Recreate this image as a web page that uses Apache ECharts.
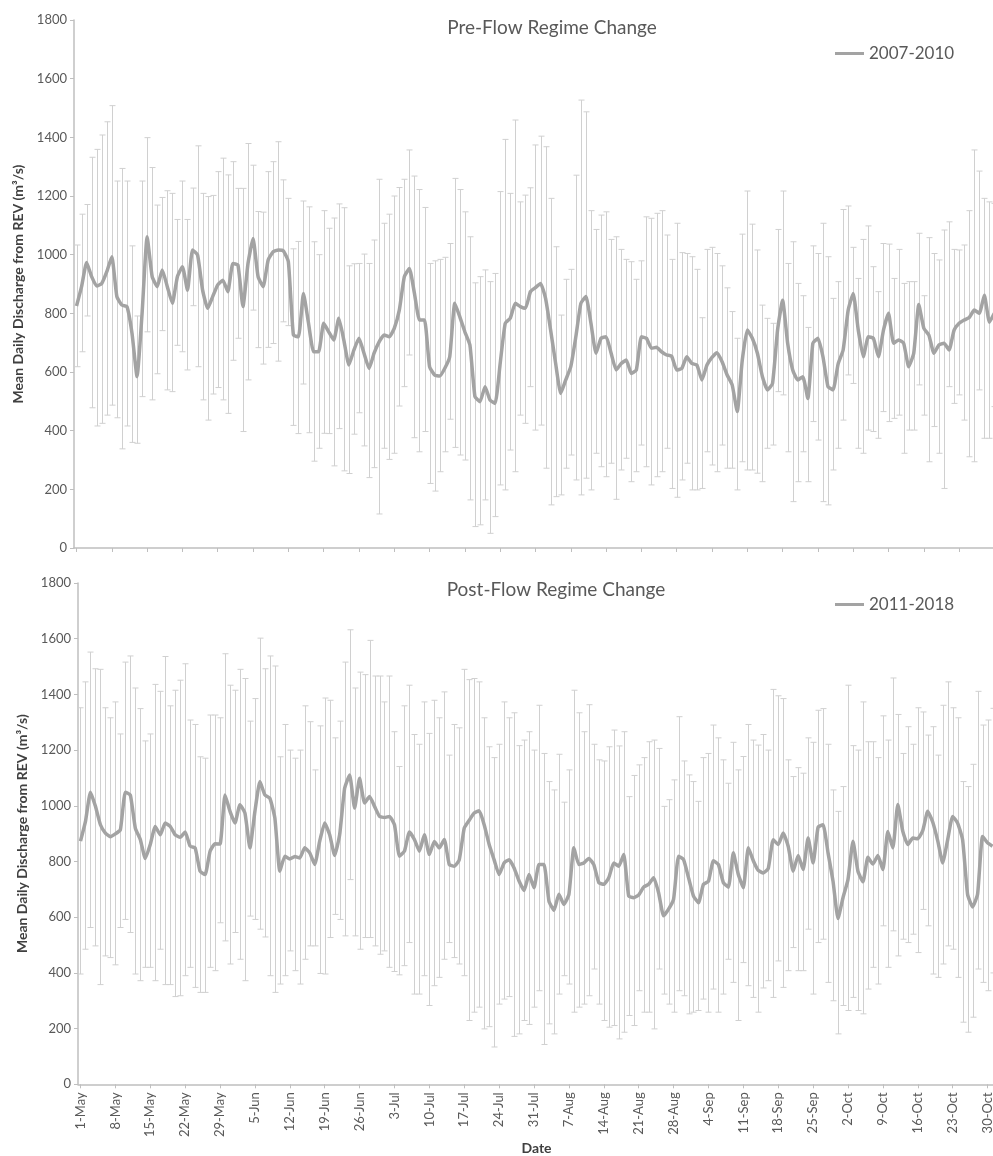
<!DOCTYPE html>
<html>
<head>
<meta charset="utf-8">
<script src="https://cdn.jsdelivr.net/npm/echarts@6/dist/echarts.min.js"></script>
<style>
  html, body { margin: 0; padding: 0; background: #fff; overflow: hidden; }
  #chart { width: 1010px; height: 1156px; }
</style>
</head>
<body>
<div id="chart"></div>
<script>
// Day-of-season categories, 1 May to 31 October
const MONTHS = [['May', 31], ['Jun', 30], ['Jul', 31], ['Aug', 31], ['Sep', 30], ['Oct', 31]];
const DATES = [];
MONTHS.forEach(([m, n]) => { for (let d = 1; d <= n; d++) DATES.push(d + '-' + m); });

const Y_TICKS = [0, 200, 400, 600, 800, 1000, 1200, 1400, 1600, 1800];

// 2007-2010: mean daily discharge and error bar ends (m3/s)
const PRE_MEAN = [
  825, 891, 973, 925, 893, 902, 942, 993, 857, 828, 823, 732, 584, 800, 1061, 925, 891, 948, 891, 834,
  925, 959, 879, 1016, 999, 879, 817, 857, 897, 913, 874, 970, 965, 823, 970, 1055, 925, 891, 982, 1010,
  1016, 1013, 976, 726, 720, 868, 766, 669, 669, 766, 737, 709, 783, 709, 624, 675, 715, 664, 612, 664,
  703, 726, 720, 749, 811, 925, 953, 868, 777, 777, 618, 590, 586, 612, 652, 834, 788, 737, 692, 516,
  499, 550, 504, 493, 629, 766, 783, 834, 823, 817, 874, 888, 902, 851, 743, 629, 527, 573, 618, 720,
  834, 857, 766, 664, 715, 720, 664, 607, 629, 641, 595, 607, 720, 715, 681, 684, 669, 658, 654, 607,
  612, 652, 629, 624, 573, 624, 650, 666, 635, 590, 556, 465, 640, 743, 715, 664, 584, 539, 561, 743,
  845, 698, 607, 573, 584, 510, 698, 715, 652, 550, 539, 627, 675, 811, 868, 743, 652, 720, 715, 652,
  743, 800, 698, 709, 698, 618, 664, 830, 749, 726, 664, 692, 698, 675, 743, 766, 777, 786, 811, 800,
  862, 770, 800, 820
];
const PRE_HIGH = [
  1033, 1138, 1171, 1332, 1359, 1408, 1453, 1508, 1251, 1294, 1251, 1030, 791, 1251, 1399, 1297, 1169, 1195, 1218, 1209,
  1120, 1251, 1120, 1227, 1371, 1209, 1198, 1202, 1283, 1329, 1272, 1317, 1226, 1226, 1379, 1305, 1147, 1145, 1283, 1317,
  1385, 1255, 1192, 1020, 1045, 1183, 1163, 1044, 1000, 1150, 1090, 1125, 1173, 1160, 962, 969, 970, 1002, 970, 1050,
  1257, 1107, 1138, 1200, 1229, 1257, 1357, 1268, 1222, 1161, 970, 979, 984, 991, 1038, 1260, 1222, 1146, 1061, 904,
  925, 948, 908, 936, 1215, 1393, 1209, 1459, 1180, 1203, 1228, 1374, 1404, 1368, 1192, 1027, 794, 916, 950, 1271,
  1527, 1487, 1150, 1086, 1135, 1146, 1052, 1061, 1018, 984, 976, 916, 979, 1129, 1124, 1141, 1150, 1067, 984, 1107,
  1007, 1004, 993, 950, 785, 1018, 1025, 1004, 962, 887, 806, 715, 1070, 1217, 1104, 1016, 828, 783, 766, 1086,
  1217, 970, 1044, 902, 860, 752, 1030, 1004, 1107, 993, 851, 908, 1154, 1166, 1025, 919, 1052, 1098, 959, 874,
  1038, 1036, 919, 1018, 902, 908, 908, 1073, 860, 1058, 1004, 982, 1084, 1112, 1018, 1016, 1033, 1150, 1357, 1285,
  1192, 1180, 1175, 1200
];
const PRE_LOW = [
  618, 669, 791, 478, 416, 425, 453, 487, 444, 338, 416, 360, 357, 516, 737, 505, 594, 741, 539, 533,
  691, 669, 607, 826, 618, 505, 436, 525, 547, 505, 459, 640, 715, 397, 573, 811, 683, 627, 684, 697,
  637, 771, 758, 418, 390, 559, 393, 296, 340, 391, 390, 280, 407, 263, 254, 388, 461, 348, 240, 274,
  116, 340, 302, 323, 484, 550, 658, 376, 328, 397, 220, 194, 260, 328, 439, 343, 317, 300, 164, 73,
  79, 164, 50, 107, 215, 198, 334, 260, 453, 425, 550, 402, 419, 272, 147, 175, 181, 272, 317, 232,
  181, 238, 198, 323, 277, 243, 289, 166, 266, 306, 226, 260, 351, 277, 215, 243, 260, 340, 203, 173,
  232, 289, 198, 198, 203, 328, 283, 260, 351, 272, 272, 198, 294, 266, 266, 255, 226, 340, 351, 533,
  522, 328, 158, 226, 328, 226, 431, 368, 158, 147, 266, 340, 436, 590, 561, 340, 323, 402, 397, 374,
  465, 431, 442, 453, 323, 402, 402, 556, 453, 294, 414, 323, 203, 550, 493, 522, 436, 311, 294, 539,
  374, 374, 482, 425
];

// 2011-2018: mean daily discharge and error bar ends (m3/s)
const POST_MEAN = [
  873, 944, 1049, 998, 932, 902, 889, 899, 914, 1049, 1039, 920, 879, 811, 861, 926, 896, 938, 926, 896,
  887, 906, 855, 849, 765, 753, 837, 864, 863, 1039, 980, 938, 1004, 974, 849, 980, 1087, 1039, 1027, 956,
  765, 819, 809, 818, 813, 849, 831, 789, 873, 938, 896, 822, 896, 1063, 1111, 992, 1099, 1010, 1033, 998,
  962, 958, 962, 932, 819, 837, 906, 879, 837, 896, 825, 872, 849, 879, 789, 783, 806, 920, 948, 974,
  982, 932, 861, 806, 753, 795, 806, 777, 730, 696, 753, 706, 789, 789, 658, 625, 682, 646, 682, 849,
  789, 795, 811, 789, 724, 718, 742, 795, 783, 825, 676, 670, 680, 708, 718, 742, 688, 605, 629, 664,
  819, 807, 742, 676, 652, 718, 729, 803, 789, 724, 708, 831, 753, 706, 849, 803, 768, 759, 775, 878,
  861, 902, 855, 765, 822, 771, 884, 795, 923, 932, 831, 729, 595, 670, 735, 873, 765, 727, 815, 791,
  822, 771, 908, 849, 1005, 908, 861, 884, 882, 911, 980, 942, 875, 795, 878, 962, 938, 878, 682, 637,
  682, 890, 867, 855
];
const POST_HIGH = [
  1352, 1445, 1552, 1492, 1490, 1352, 1316, 1373, 1258, 1516, 1538, 1423, 1349, 1233, 1258, 1436, 1411, 1536, 1359, 1415,
  1451, 1510, 1308, 1292, 1176, 1171, 1326, 1326, 1316, 1546, 1433, 1415, 1490, 1457, 1304, 1385, 1602, 1492, 1538, 1502,
  1176, 1292, 1200, 1171, 1200, 1359, 1302, 1129, 1287, 1387, 1379, 1244, 1304, 1516, 1632, 1423, 1480, 1471, 1594, 1466,
  1466, 1373, 1466, 1266, 1141, 1359, 1433, 1256, 1221, 1373, 1260, 1379, 1316, 1409, 1182, 1292, 1280, 1490, 1453, 1457,
  1445, 1316, 1212, 1173, 1221, 1373, 1316, 1334, 1216, 1236, 1266, 1200, 1361, 1188, 1087, 1057, 1185, 1013, 1129, 1415,
  1334, 1266, 1363, 1221, 1165, 1161, 1212, 1272, 1215, 1266, 1033, 1109, 1147, 1173, 1230, 1236, 1206, 998, 1022, 1093,
  1320, 1161, 1111, 1087, 1016, 1173, 1188, 1290, 1244, 1165, 1081, 1228, 1129, 1177, 1292, 1236, 1218, 1256, 1200, 1418,
  1395, 1385, 1165, 1105, 1137, 1117, 1244, 1228, 1343, 1349, 1221, 1057, 980, 1069, 1433, 1216, 1200, 1373, 1230, 1230,
  1173, 1323, 1236, 1459, 1328, 1188, 1284, 1221, 1352, 1337, 1254, 1284, 1182, 1361, 1445, 1352, 1316, 1087, 1069, 1149,
  1411, 1290, 1308, 1350
];
const POST_LOW = [
  396, 485, 563, 497, 358, 461, 455, 429, 563, 592, 545, 396, 372, 420, 420, 372, 485, 358, 358, 315,
  318, 390, 420, 348, 330, 330, 420, 408, 580, 515, 432, 545, 449, 372, 604, 592, 557, 529, 390, 330,
  360, 390, 479, 408, 360, 449, 497, 497, 398, 396, 527, 610, 592, 533, 735, 533, 485, 527, 527, 497,
  467, 479, 420, 405, 393, 426, 509, 324, 324, 390, 283, 354, 384, 449, 509, 455, 432, 390, 229, 259,
  277, 199, 207, 134, 288, 306, 315, 172, 181, 229, 215, 277, 336, 143, 217, 181, 324, 390, 360, 259,
  277, 288, 318, 414, 288, 229, 205, 211, 163, 187, 247, 211, 336, 259, 259, 199, 414, 324, 288, 259,
  336, 318, 253, 259, 265, 306, 259, 342, 259, 324, 449, 366, 229, 437, 354, 312, 259, 346, 372, 312,
  443, 348, 408, 491, 408, 408, 557, 324, 509, 521, 366, 300, 181, 283, 265, 312, 265, 253, 342, 420,
  360, 569, 420, 551, 461, 521, 509, 539, 473, 628, 569, 396, 384, 432, 497, 485, 384, 223, 187, 241,
  414, 366, 336, 400
];

const TEXT = '#595959';
const DARK = '#404040';
const FONT = 'Lato, "Open Sans", sans-serif';
const BAR_COLOR = '#d0d0d0';
const LINE_COLOR = '#a3a3a3';
const AXIS_COLOR = '#bfbfbf';

// Vertical error bar with short caps at both ends
function errorBar(params, api) {
  const i = api.value(0);
  const lo = api.coord([i, api.value(1)]);
  const hi = api.coord([i, api.value(2)]);
  const x = Math.round(lo[0]) + 0.5;
  const half = 3;
  const style = { stroke: BAR_COLOR, lineWidth: 1 };
  return {
    type: 'group',
    children: [
      { type: 'line', shape: { x1: x, y1: lo[1], x2: x, y2: hi[1] }, style },
      { type: 'line', shape: { x1: x - half, y1: hi[1], x2: x + half, y2: hi[1] }, style },
      { type: 'line', shape: { x1: x - half, y1: lo[1], x2: x + half, y2: lo[1] }, style }
    ]
  };
}

function yAxis(gridIndex) {
  return {
    type: 'value', gridIndex, min: Y_TICKS[0], max: Y_TICKS[Y_TICKS.length - 1], interval: 200,
    name: 'Mean Daily Discharge from REV (m³/s)',
    nameLocation: 'middle', nameGap: 48,
    nameTextStyle: { fontFamily: FONT, fontSize: 14, fontWeight: 'bold', color: DARK },
    axisLine: { show: true, lineStyle: { color: AXIS_COLOR, width: 1.5 } },
    axisTick: { show: true, length: 4, lineStyle: { color: AXIS_COLOR } },
    axisLabel: { fontFamily: FONT, fontSize: 13, color: TEXT, margin: 7, formatter: v => String(v) },
    splitLine: { show: false }
  };
}

function xAxis(gridIndex, showLabels) {
  return {
    type: 'category', gridIndex, data: DATES, boundaryGap: true,
    axisLine: { show: true, lineStyle: { color: AXIS_COLOR, width: 1.5 } },
    axisTick: { show: true, interval: 6, alignWithLabel: true, length: 4, lineStyle: { color: AXIS_COLOR } },
    axisLabel: {
      show: showLabels, interval: 6, rotate: 90, margin: 8,
      fontFamily: FONT, fontSize: 13, color: TEXT
    },
    name: showLabels ? 'Date' : '',
    nameLocation: 'middle', nameGap: 54,
    nameTextStyle: { fontFamily: FONT, fontSize: 14, fontWeight: 'bold', color: DARK },
    splitLine: { show: false }
  };
}

function rows(low, high) {
  return DATES.map((d, i) => [i, low[i], high[i]]);
}

const legendText = { fontFamily: FONT, fontSize: 17, color: TEXT };

function panelTitle(text, cx, cy) {
  return {
    type: 'text', x: cx, y: cy,
    style: { text, fontFamily: FONT, fontSize: 19, fill: TEXT, align: 'center', verticalAlign: 'middle' }
  };
}

const chart = echarts.init(document.getElementById('chart'), null, { renderer: 'canvas' });
chart.setOption({
  animation: false,
  backgroundColor: '#ffffff',
  grid: [
    { left: 74, right: 8, top: 20, height: 528 },
    { left: 78, right: 15, top: 583, height: 504 }
  ],
  xAxis: [xAxis(0, false), xAxis(1, true)],
  yAxis: [yAxis(0), yAxis(1)],
  legend: [
    {
      data: ['2007-2010'], left: 830, top: 40, icon: 'rect', itemWidth: 29, itemHeight: 3,
      textStyle: legendText
    },
    {
      data: ['2011-2018'], left: 830, top: 591, icon: 'rect', itemWidth: 29, itemHeight: 3,
      textStyle: legendText
    }
  ],
  graphic: [
    panelTitle('Pre-Flow Regime Change', 552, 28),
    panelTitle('Post-Flow Regime Change', 556, 590)
  ],
  series: [
    {
      type: 'custom', name: 'pre-range', xAxisIndex: 0, yAxisIndex: 0,
      renderItem: errorBar, data: rows(PRE_LOW, PRE_HIGH), encode: { x: 0, y: [1, 2] }, z: 1
    },
    {
      type: 'line', name: '2007-2010', xAxisIndex: 0, yAxisIndex: 0, data: PRE_MEAN,
      symbol: 'none', smooth: 0.15, z: 3,
      lineStyle: { color: LINE_COLOR, width: 3.5 }, itemStyle: { color: LINE_COLOR }
    },
    {
      type: 'custom', name: 'post-range', xAxisIndex: 1, yAxisIndex: 1,
      renderItem: errorBar, data: rows(POST_LOW, POST_HIGH), encode: { x: 0, y: [1, 2] }, z: 1
    },
    {
      type: 'line', name: '2011-2018', xAxisIndex: 1, yAxisIndex: 1, data: POST_MEAN,
      symbol: 'none', smooth: 0.15, z: 3,
      lineStyle: { color: LINE_COLOR, width: 3.5 }, itemStyle: { color: LINE_COLOR }
    }
  ]
});
</script>
</body>
</html>
